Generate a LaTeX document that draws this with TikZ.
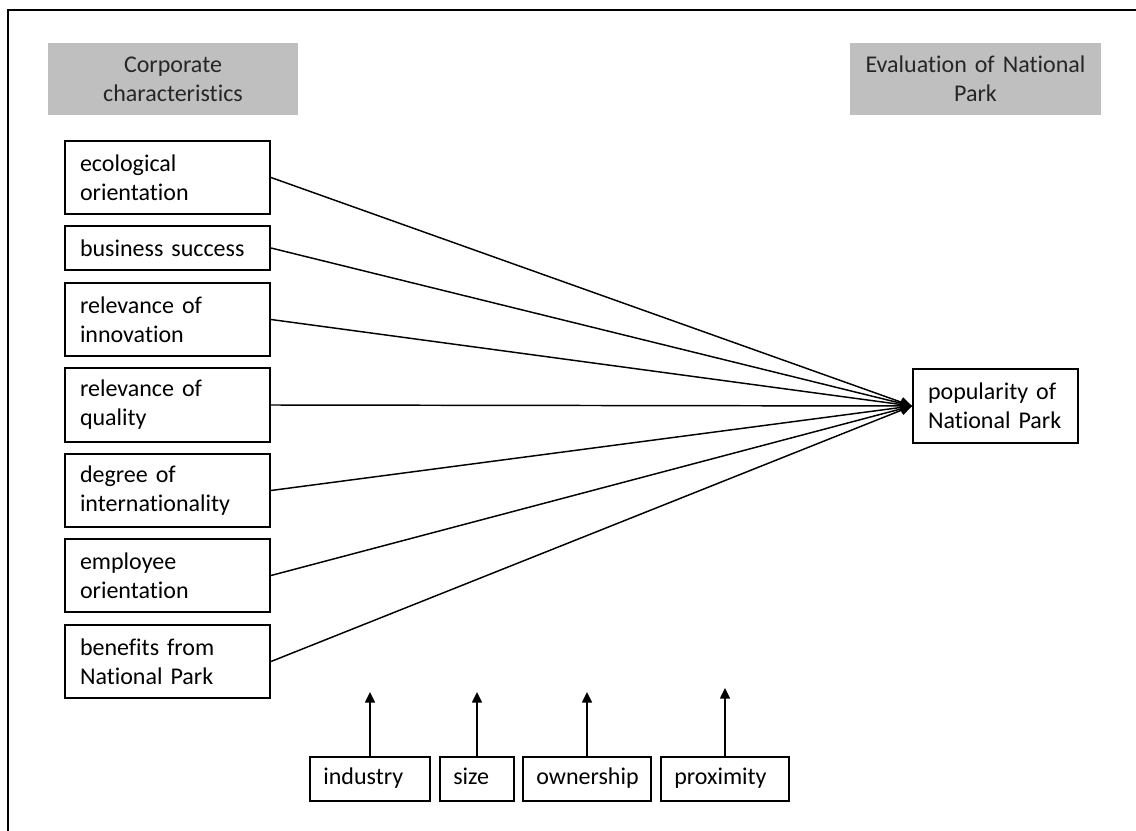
\documentclass[tikz,border=0pt]{standalone}
\usepackage{fontspec}
\setmainfont{Carlito}[Ligatures=NoCommon]
\usetikzlibrary{arrows.meta}
\definecolor{hdrgray}{RGB}{191,191,191}
\definecolor{hdrtext}{RGB}{38,38,38}
\tikzset{
  base/.style={rectangle, inner ysep=0pt, font=\fontsize{18pt}{21.75pt}\selectfont, anchor=center},
  hdr/.style={base, fill=hdrgray, text=hdrtext, align=center, minimum height=54pt, text width=187.5pt, inner xsep=0pt},
  factor/.style={base, draw, line width=1.5pt, align=left, inner xsep=11.25pt, text width=131.25pt},
  modbox/.style={base, draw, line width=1.5pt, align=left, inner xsep=10pt, minimum height=33pt, text height=13pt, text depth=4.5pt},
  link/.style={line width=1.1pt, -{Triangle[length=8.5pt,width=7.5pt]}},
  uparrow/.style={line width=1.1pt, -{Triangle[length=8pt,width=7.5pt]}},
}
\begin{document}
\begin{tikzpicture}[x=0.75pt,y=-0.75pt]
\useasboundingbox (0,0) rectangle (1136,831);
\draw[line width=1.5pt] (8,831) -- (8,10) -- (1136,10);

\node[hdr] (hdrL) at (173,79) {Corporate\\characteristics};
\node[hdr, text width=188.25pt] (hdrR) at (975.5,79) {Evaluation of National\\Park};

\node[factor, minimum height=54.75pt] (eco) at (167.5,177.5) {ecological\\orientation};
\node[factor, minimum height=33pt] (bus) at (167.5,248) {business success};
\node[factor, minimum height=54.75pt] (inn) at (167.5,319.5) {relevance of\\innovation};
\node[factor, minimum height=55.5pt] (qua) at (167.5,405) {relevance of\\quality};
\node[factor, minimum height=54.75pt] (deg) at (167.5,490.5) {degree of\\internationality};
\node[factor, minimum height=54.75pt] (emp) at (167.5,575.5) {employee\\orientation};
\node[factor, minimum height=54.75pt] (ben) at (167.5,661.5) {benefits from\\National Park};

\node[factor, text width=101.25pt, minimum height=55.5pt] (pop) at (995.5,406) {popularity of\\National Park};

\foreach \n in {eco,bus,inn,qua,deg,emp,ben}
  \draw[link] (\n.east) -- (pop.west);

\node[modbox, text width=70pt] (ind) at (370,779) {industry};
\node[modbox, text width=35.5pt] (siz) at (477,779) {size};
\node[modbox, text width=76pt] (own) at (587,779) {ownership};
\node[modbox, text width=76pt] (pro) at (725,779) {proximity};

\coordinate (tind) at (370,692);
\coordinate (tsiz) at (477,692);
\coordinate (town) at (587,692);
\coordinate (tpro) at (725,688);
\draw[uparrow] (ind.north) -- (tind);
\draw[uparrow] (siz.north) -- (tsiz);
\draw[uparrow] (own.north) -- (town);
\draw[uparrow] (pro.north) -- (tpro);
\end{tikzpicture}
\end{document}
